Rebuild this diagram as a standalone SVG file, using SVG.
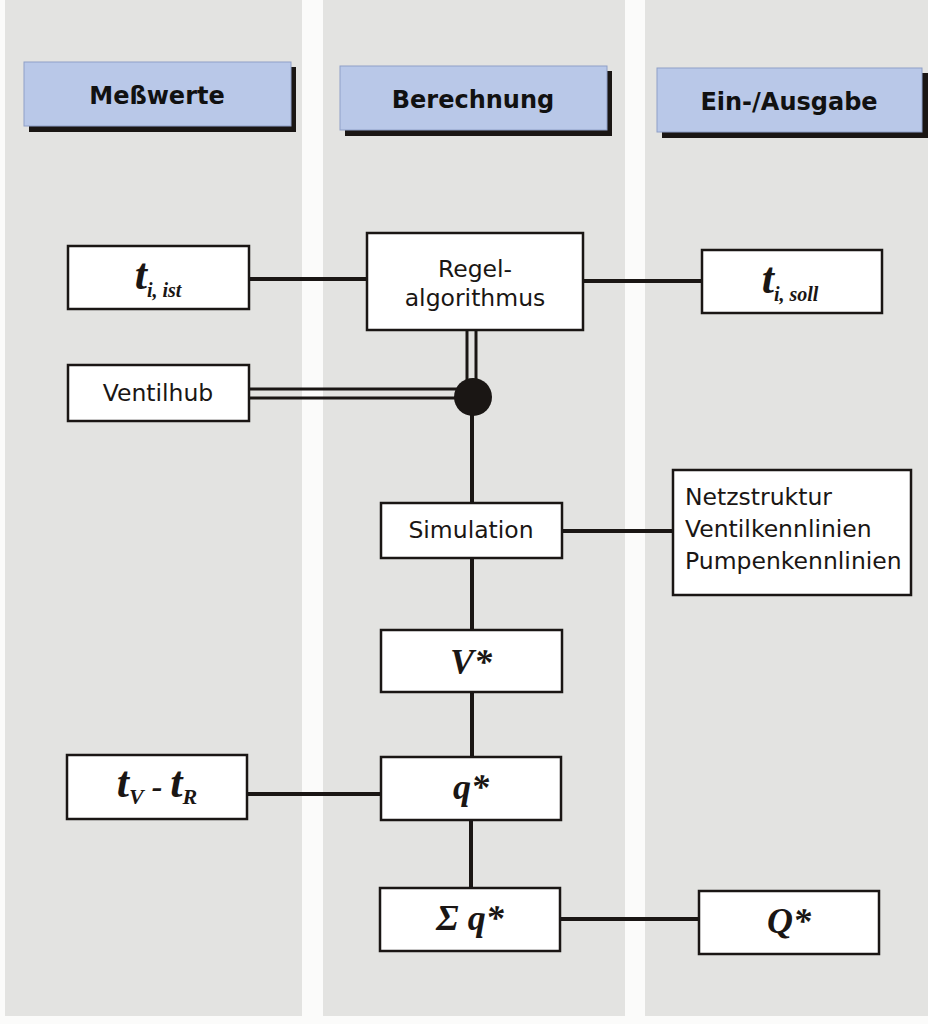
<svg xmlns="http://www.w3.org/2000/svg" width="928" height="1024" viewBox="0 0 928 1024">
<style>
.col{fill:#e3e3e1}
.hdr{fill:#b9c8e8;stroke:#8fa0c8;stroke-width:1}
.shd{fill:#1a1614}
.ht{font-family:"DejaVu Sans",Lato,sans-serif;font-weight:bold;font-size:24px;fill:#111;text-anchor:middle}
.box{fill:#fff;stroke:#1a1614;stroke-width:2.5}
.t{font-family:"DejaVu Sans",Lato,sans-serif;font-size:23.5px;fill:#1a1614;text-anchor:middle}
.tl{font-family:"DejaVu Sans",Lato,sans-serif;font-size:23.5px;fill:#1a1614;text-anchor:start}
.m{font-family:"Liberation Serif",serif;font-style:italic;font-weight:bold;fill:#1a1614;text-anchor:middle}
.ln{stroke:#1a1614;stroke-width:4;fill:none}
.dl{stroke:#1a1614;stroke-width:3;fill:none}
</style>
<rect x="0" y="0" width="928" height="1024" fill="#fbfbfa"/>
<rect class="col" x="5" y="0" width="297" height="1016"/>
<rect class="col" x="323" y="0" width="302" height="1016"/>
<rect class="col" x="645" y="0" width="283" height="1016"/>

<g id="hdr-messwerte">
<rect class="shd" x="29" y="67" width="267" height="65"/>
<rect class="hdr" x="24" y="62" width="267" height="64"/>
<text class="ht" x="157" y="104">Meßwerte</text>
</g>
<g id="hdr-berechnung">
<rect class="shd" x="345" y="71" width="267" height="65"/>
<rect class="hdr" x="340" y="66" width="267" height="64"/>
<text class="ht" x="473" y="108">Berechnung</text>
</g>
<g id="hdr-ein-ausgabe">
<rect class="shd" x="662" y="73" width="266" height="65"/>
<rect class="hdr" x="657" y="68" width="265" height="64"/>
<text class="ht" x="789" y="110">Ein-/Ausgabe</text>
</g>

<g id="connectors">
<line class="ln" x1="249" y1="279" x2="367" y2="279"/>
<line class="ln" x1="583" y1="281" x2="702" y2="281"/>
<line class="dl" x1="467" y1="330" x2="467" y2="392"/>
<line class="dl" x1="476" y1="330" x2="476" y2="392"/>
<line class="dl" x1="249" y1="389" x2="470" y2="389"/>
<line class="dl" x1="249" y1="398" x2="470" y2="398"/>
<line class="ln" x1="472" y1="397" x2="472" y2="503"/>
<line class="ln" x1="562" y1="531" x2="673" y2="531"/>
<line class="ln" x1="472" y1="558" x2="472" y2="630"/>
<line class="ln" x1="472" y1="692" x2="472" y2="757"/>
<line class="ln" x1="247" y1="794" x2="381" y2="794"/>
<line class="ln" x1="471" y1="820" x2="471" y2="888"/>
<line class="ln" x1="560" y1="919" x2="699" y2="919"/>
<circle cx="473" cy="397" r="19" fill="#1a1614"/>
</g>

<g id="n-ti-ist">
<rect class="box" x="68" y="246" width="181" height="63"/>
<text class="m" x="158" y="289"><tspan font-size="44">t</tspan><tspan font-size="20" dy="8">i, ist</tspan></text>
</g>
<g id="n-regel">
<rect class="box" x="367" y="233" width="216" height="97"/>
<text class="t" x="475" y="277">Regel-</text>
<text class="t" x="475" y="306">algorithmus</text>
</g>
<g id="n-ti-soll">
<rect class="box" x="702" y="250" width="180" height="63"/>
<text class="m" x="790" y="293"><tspan font-size="44">t</tspan><tspan font-size="20" dy="8">i, soll</tspan></text>
</g>
<g id="n-ventilhub">
<rect class="box" x="68" y="365" width="181" height="56"/>
<text class="t" x="158" y="401">Ventilhub</text>
</g>
<g id="n-simulation">
<rect class="box" x="381" y="503" width="181" height="55"/>
<text class="t" x="471" y="538">Simulation</text>
</g>
<g id="n-netz">
<rect class="box" x="673" y="470" width="238" height="125"/>
<text class="tl" x="685" y="505">Netzstruktur</text>
<text class="tl" x="685" y="537">Ventilkennlinien</text>
<text class="tl" x="685" y="569">Pumpenkennlinien</text>
</g>
<g id="n-v">
<rect class="box" x="381" y="630" width="181" height="62"/>
<text class="m" x="471" y="674" font-size="36">V*</text>
</g>
<g id="n-tv-tr">
<rect class="box" x="67" y="755" width="180" height="64"/>
<text class="m" x="157" y="797"><tspan font-size="44">t</tspan><tspan font-size="22" dy="7">V</tspan><tspan font-size="32" dy="-7"> - </tspan><tspan font-size="44">t</tspan><tspan font-size="22" dy="7">R</tspan></text>
</g>
<g id="n-q">
<rect class="box" x="381" y="757" width="180" height="63"/>
<text class="m" x="471" y="799" font-size="36">q*</text>
</g>
<g id="n-sum-q">
<rect class="box" x="380" y="888" width="180" height="63"/>
<text class="m" x="470" y="930" font-size="36">Σ q*</text>
</g>
<g id="n-Q">
<rect class="box" x="699" y="891" width="180" height="63"/>
<text class="m" x="789" y="933" font-size="36">Q*</text>
</g>
</svg>
